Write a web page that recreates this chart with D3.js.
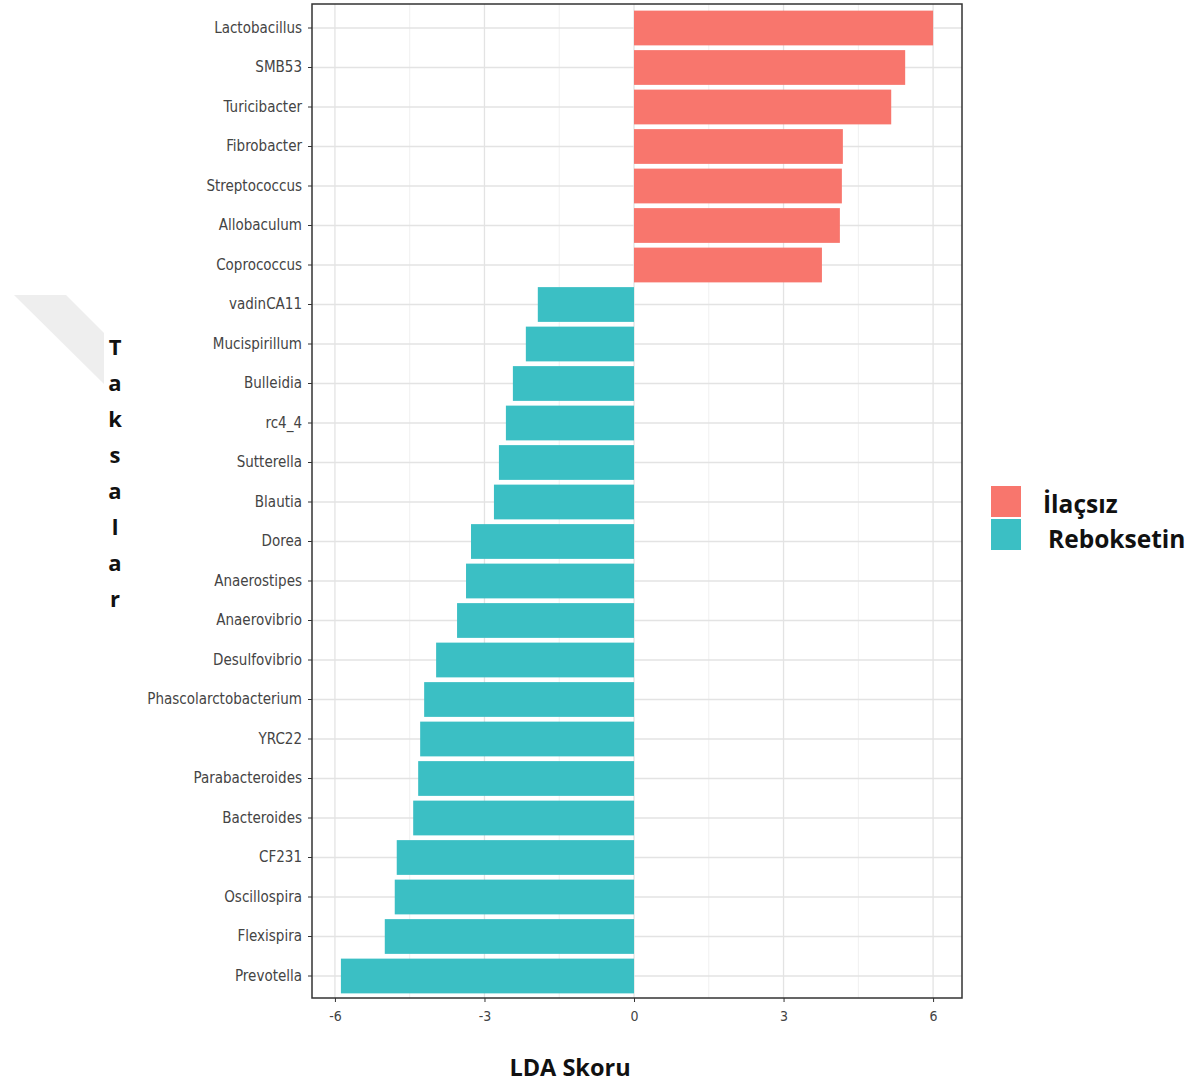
<!DOCTYPE html>
<html><head><meta charset="utf-8">
<script src="https://cdn.jsdelivr.net/npm/d3@7"></script>
<style>body{margin:0;background:#fff}svg{display:block}</style>
</head><body>
<script>
const taxa = ["Lactobacillus","SMB53","Turicibacter","Fibrobacter","Streptococcus","Allobaculum","Coprococcus","vadinCA11","Mucispirillum","Bulleidia","rc4_4","Sutterella","Blautia","Dorea","Anaerostipes","Anaerovibrio","Desulfovibrio","Phascolarctobacterium","YRC22","Parabacteroides","Bacteroides","CF231","Oscillospira","Flexispira","Prevotella"];
const ldaScores = [6.0,5.44,5.16,4.19,4.17,4.13,3.77,-1.93,-2.17,-2.43,-2.57,-2.71,-2.81,-3.27,-3.37,-3.55,-3.97,-4.21,-4.29,-4.33,-4.43,-4.76,-4.80,-5.00,-5.88];
const groups = ["İlaçsız","Reboksetin"];
const groupColors = ["#F8766D","#3BBFC4"];
const xTicks = [-6,-3,0,3,6];
const xMinor = [-4.5,-1.5,1.5,4.5];
const xTitle = "LDA Skoru";
const yTitle = "Taksalar";

const W=1202,H=1083;
const svg=d3.select("body").append("svg").attr("width",W).attr("height",H);
const P={l:312,r:962,t:4,b:998};
const x=d3.scaleLinear().domain([-6.46,6.58]).range([P.l,P.r]);
const y=d3.scaleBand().domain(taxa).range([8.25,995.75]).paddingInner(0.12).paddingOuter(0.06);
const color=d3.scaleOrdinal().domain(groups).range(groupColors);

// faint decoration at left
svg.append("polygon").attr("points","14,295 66,295 104,333 104,384").attr("fill","#eeeeee");

const g=svg.append("g");
// grid
g.selectAll(".gmin").data(xMinor).join("line").attr("x1",d=>x(d)).attr("x2",d=>x(d)).attr("y1",P.t).attr("y2",P.b).attr("stroke","#f0f0f0").attr("stroke-width",1);
g.selectAll(".gmaj").data(xTicks).join("line").attr("x1",d=>x(d)).attr("x2",d=>x(d)).attr("y1",P.t).attr("y2",P.b).attr("stroke","#e3e3e3").attr("stroke-width",1.3);
g.selectAll(".gy").data(taxa).join("line").attr("x1",P.l).attr("x2",P.r).attr("y1",d=>y(d)+y.bandwidth()/2).attr("y2",d=>y(d)+y.bandwidth()/2).attr("stroke","#e3e3e3").attr("stroke-width",1.3);

// bars
g.selectAll(".bar").data(taxa).join("rect")
  .attr("x",(d,i)=>Math.min(x(0),x(ldaScores[i])))
  .attr("width",(d,i)=>Math.abs(x(ldaScores[i])-x(0)))
  .attr("y",d=>y(d)).attr("height",y.bandwidth())
  .attr("fill",(d,i)=>color(ldaScores[i]>0?groups[0]:groups[1]));

// border
svg.append("rect").attr("x",P.l).attr("y",P.t).attr("width",P.r-P.l).attr("height",P.b-P.t).attr("fill","none").attr("stroke","#333").attr("stroke-width",1.5);

// axes
const yAx=svg.append("g").attr("transform",`translate(${P.l},0)`).call(d3.axisLeft(y).tickSize(4).tickPadding(6));
yAx.select(".domain").remove();
yAx.selectAll("line").attr("stroke","#333");
yAx.selectAll("text").attr("font-family","'Liberation Sans Narrow','DejaVu Sans Condensed',sans-serif").attr("font-size",15).attr("fill","#444");

const xAx=svg.append("g").attr("transform",`translate(0,${P.b})`).call(d3.axisBottom(x).tickValues(xTicks).tickFormat(d=>String(d)).tickSize(4).tickPadding(9));
xAx.select(".domain").remove();
xAx.selectAll("line").attr("stroke","#333");
xAx.selectAll("text").attr("font-family","'Liberation Sans Narrow','DejaVu Sans Condensed',sans-serif").attr("font-size",14).attr("fill","#444");

svg.append("text").attr("x",570).attr("y",1076).attr("text-anchor","middle").attr("font-family","'Open Sans',sans-serif").attr("font-weight","bold").attr("font-size",23.5).attr("fill","#111").text(xTitle);

svg.append("g").selectAll("text").data(yTitle.split("")).join("text")
  .attr("x",115).attr("y",(d,i)=>355+i*36).attr("text-anchor","middle")
  .attr("font-family","'Open Sans',sans-serif").attr("font-weight","bold").attr("font-size",22).attr("fill","#111").text(d=>d);

// legend
const lg=svg.append("g");
lg.selectAll("rect").data(groups).join("rect").attr("x",991).attr("y",(d,i)=>486+i*33).attr("width",30).attr("height",31).attr("fill",d=>color(d));
lg.selectAll("text").data(groups).join("text").attr("x",(d,i)=>i===0?1043:1048).attr("y",(d,i)=>513+i*35)
  .attr("font-family","'Open Sans',sans-serif").attr("font-weight","bold").attr("font-size",24.5).attr("fill","#111").text(d=>d);
</script>
</body></html>
